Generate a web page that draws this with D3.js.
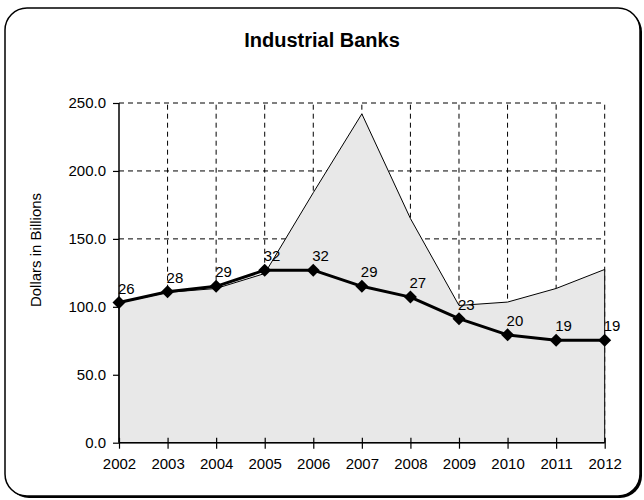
<!DOCTYPE html>
<html>
<head>
<meta charset="utf-8">
<script src="https://cdn.jsdelivr.net/npm/d3@7"></script>
<style>
  html, body { margin: 0; padding: 0; background: #fff; }
  text { font-family: "Liberation Sans", Arial, Helvetica, sans-serif; fill: #000; }
</style>
</head>
<body>
<svg id="chart" width="644" height="500"></svg>
<script>
// Industrial banks: total assets (area, $ billions) and number of institutions (line)
const years = [2002, 2003, 2004, 2005, 2006, 2007, 2008, 2009, 2010, 2011, 2012];
const assets = [103, 110.6, 113.5, 124.5, 184, 242, 165, 101, 103.5, 113.5, 127.5];
const banks = [26, 28, 29, 32, 32, 29, 27, 23, 20, 19, 19];
const yTicks = [0, 50, 100, 150, 200, 250];

const svg = d3.select("#chart");

// Frame with a drop shadow on the lower-right edges
svg.append("rect")
  .attr("x", 7).attr("y", 10).attr("width", 635).attr("height", 488)
  .attr("rx", 22).attr("ry", 22)
  .attr("fill", "#000");
svg.append("rect")
  .attr("x", 5).attr("y", 8).attr("width", 635).attr("height", 488)
  .attr("rx", 22).attr("ry", 22)
  .attr("fill", "#fff").attr("stroke", "#000").attr("stroke-width", 1.5);

svg.append("text")
  .attr("x", 322).attr("y", 47)
  .attr("text-anchor", "middle")
  .style("font-size", "20px").style("font-weight", "bold")
  .text("Industrial Banks");

const x = d3.scalePoint().domain(years).range([119, 604.7]);
const y = d3.scaleLinear().domain([0, 250]).range([442.7, 103]);
// Bank counts sit on their own (unlabelled) scale sharing the plot height
const y2 = d3.scaleLinear().domain([0, 63]).range([442.7, 103]);

const x0 = x(years[0]), x1 = x(years[years.length - 1]);

// Dashed grid
const grid = svg.append("g").attr("stroke", "#000").attr("stroke-width", 1)
  .attr("stroke-dasharray", "5,4").attr("fill", "none");
grid.selectAll("line.h").data(yTicks.filter(d => d > 0)).join("line")
  .attr("class", "h")
  .attr("x1", x0).attr("x2", x1)
  .attr("y1", d => y(d)).attr("y2", d => y(d));
grid.selectAll("line.v").data(years.slice(1)).join("line")
  .attr("class", "v")
  .attr("x1", d => x(d)).attr("x2", d => x(d))
  .attr("y1", y(0)).attr("y2", y(250));

// Assets area
const area = d3.area()
  .x((d, i) => x(years[i]))
  .y0(y(0))
  .y1(d => y(d));
svg.append("path")
  .datum(assets)
  .attr("d", area)
  .attr("fill", "#e8e8e8")
  .attr("stroke", "#000")
  .attr("stroke-width", 1)
  .attr("stroke-linejoin", "miter");

// Y axis
const yAxis = d3.axisLeft(y).tickValues(yTicks).tickSize(6).tickPadding(7)
  .tickFormat(d3.format(".1f"));
const gy = svg.append("g").attr("transform", `translate(${x0},0)`).call(yAxis);
gy.select(".domain").attr("stroke", "#000").attr("stroke-width", 1.5).attr("d", `M0,${y(0)}V${y(250)}`);
gy.selectAll(".tick line").attr("stroke", "#000").attr("stroke-width", 1.2);
gy.selectAll(".tick text").style("font-size", "15px").style("font-family", "Liberation Sans, Arial, sans-serif").attr("fill", "#000");

// X axis
const xAxis = d3.axisBottom(x).tickSize(6).tickPadding(10).tickFormat(d3.format("d"));
const gx = svg.append("g").attr("transform", `translate(0,${y(0)})`).call(xAxis);
gx.select(".domain").attr("stroke", "#000").attr("stroke-width", 1.5).attr("d", `M${x0},0H${x1}`);
gx.selectAll(".tick line").attr("stroke", "#000").attr("stroke-width", 1.2).attr("y1", -5);
gx.selectAll(".tick text").style("font-size", "15px").style("font-family", "Liberation Sans, Arial, sans-serif").attr("fill", "#000");

svg.append("text")
  .attr("transform", "translate(41,250) rotate(-90)")
  .attr("text-anchor", "middle")
  .style("font-size", "15px")
  .text("Dollars in Billions");

// Bank count line with diamond markers
const line = d3.line()
  .x((d, i) => x(years[i]))
  .y(d => y2(d));
svg.append("path")
  .datum(banks)
  .attr("d", line)
  .attr("fill", "none")
  .attr("stroke", "#000")
  .attr("stroke-width", 3)
  .attr("stroke-linejoin", "round");

svg.selectAll("path.marker").data(banks).join("path")
  .attr("class", "marker")
  .attr("transform", (d, i) => `translate(${x(years[i])},${y2(d)})`)
  .attr("d", "M0,-6.5L6.5,0L0,6.5L-6.5,0Z")
  .attr("fill", "#000");

svg.selectAll("text.lbl").data(banks).join("text")
  .attr("class", "lbl")
  .attr("x", (d, i) => x(years[i]) - 1)
  .attr("y", d => y2(d) - 9)
  .style("font-size", "15px")
  .text(d => d);
</script>
</body>
</html>
